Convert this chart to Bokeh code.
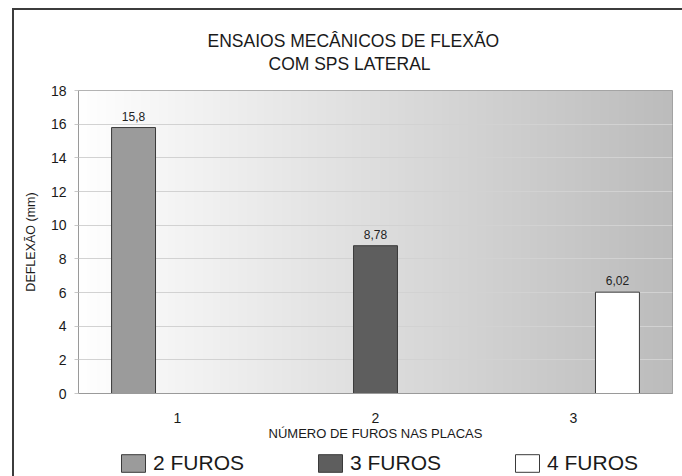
import numpy as np
from bokeh.plotting import figure
from bokeh.layouts import column
from bokeh.models import (ColumnDataSource, FactorRange, Range1d, FixedTicker,
                          Legend, LegendItem, Title)
from bokeh.transform import dodge
from bokeh.core.properties import value
from bokeh.embed import file_html
from bokeh.resources import INLINE

# ---- data ----
categories = ["1", "2", "3"]
series_names = ["2 FUROS", "3 FUROS", "4 FUROS"]
furos2 = [15.8, 0, 0]
furos3 = [0, 8.78, 0]
furos4 = [0, 0, 6.02]
y_ticks = [0, 2, 4, 6, 8, 10, 12, 14, 16, 18]
title_lines = ["ENSAIOS MECÂNICOS DE FLEXÃO", "COM SPS LATERAL"]
x_title = "NÚMERO DE FUROS NAS PLACAS"
y_title = "DEFLEXÃO (mm)"

FONT = "Liberation Sans"
W = 668

p = figure(width=W, height=434,
           x_range=FactorRange(*categories, range_padding=0, factor_padding=0),
           y_range=Range1d(0, 18),
           output_backend="svg", toolbar_location=None,
           min_border_left=64, min_border_right=10,
           min_border_top=80, min_border_bottom=51)
p.title = None
p.background_fill_color = "white"
p.border_fill_color = "white"
p.outline_line_color = "#9a9a9a"
p.outline_line_width = 1

# gradient background of plot area
n = 256
grad = np.linspace(255, 188, n).astype(np.uint8)
img = np.empty((1, n), dtype=np.uint32)
view = img.view(dtype=np.uint8).reshape((1, n, 4))
view[0, :, 0] = grad
view[0, :, 1] = grad
view[0, :, 2] = grad
view[0, :, 3] = 255
p.image_rgba(image=[img], x=0, y=0, dw=len(categories), dh=18, level="image")

# grid
p.xgrid.grid_line_color = None
p.ygrid.ticker = FixedTicker(ticks=y_ticks)
p.ygrid.grid_line_color = "#d2d2d2"
p.ygrid.grid_line_width = 1

# bars
colors = ["#9b9b9b", "#5e5e5e", "#ffffff"]
bar_w = 0.222
offsets = [-bar_w, 0.0, bar_w]
for name, vals, col, off in zip(series_names, [furos2, furos3, furos4], colors, offsets):
    cats = [c for c, v in zip(categories, vals) if v > 0]
    vs = [v for v in vals if v > 0]
    src = ColumnDataSource(dict(cat=cats, val=vs,
                                lab=[f"{v:g}".replace(".", ",") for v in vs]))
    p.vbar(x=dodge("cat", off, range=p.x_range), top="val", bottom=0,
           width=bar_w, source=src, fill_color=col,
           line_color="#3a3a3a", line_width=1)
    p.text(x=dodge("cat", off, range=p.x_range), y="val", text="lab", source=src,
           text_align="center", text_baseline="bottom", y_offset=-7,
           text_font=value(FONT), text_font_size="12px", text_color="#222222")

# axes
p.yaxis.ticker = FixedTicker(ticks=y_ticks)
p.yaxis.axis_label = y_title
p.yaxis.axis_label_text_font = FONT
p.yaxis.axis_label_text_font_style = "normal"
p.yaxis.axis_label_text_font_size = "12.5px"
p.yaxis.axis_label_text_color = "#1a1a1a"
p.yaxis.axis_label_standoff = 10
p.yaxis.major_label_text_font = FONT
p.yaxis.major_label_text_font_size = "14px"
p.yaxis.major_label_text_color = "#1a1a1a"
p.yaxis.major_label_standoff = 8
p.yaxis.axis_line_color = "#9a9a9a"
p.yaxis.major_tick_line_color = "#c8c8c8"
p.yaxis.major_tick_out = 4
p.yaxis.major_tick_in = 0
p.yaxis.minor_tick_line_color = None

p.xaxis.axis_label = x_title
p.xaxis.axis_label_text_font = FONT
p.xaxis.axis_label_text_font_style = "normal"
p.xaxis.axis_label_text_font_size = "13px"
p.xaxis.axis_label_text_color = "#1a1a1a"
p.xaxis.axis_label_standoff = 0
p.xaxis.major_label_text_font = FONT
p.xaxis.major_label_text_font_size = "14px"
p.xaxis.major_label_text_color = "#1a1a1a"
p.xaxis.major_label_standoff = 19
p.xaxis.axis_line_color = "#9a9a9a"
p.xaxis.major_tick_line_color = None
p.xaxis.major_tick_out = 0
p.xaxis.major_tick_in = 0
p.xaxis.minor_tick_line_color = None

# title lines (second line added first: it sits nearest the plot)
p.add_layout(Title(text=title_lines[1], align="left", offset=190, standoff=33,
                   text_font=FONT, text_font_size="17.5px",
                   text_font_style="normal", text_color="#1a1a1a"), "above")
p.add_layout(Title(text=title_lines[0], align="left", offset=129, standoff=-30,
                   text_font=FONT, text_font_size="17.5px",
                   text_font_style="normal", text_color="#1a1a1a"), "above")

# legend strip (its own small figure below the chart; its frame aligns with the chart's)
q = figure(width=W, height=32, x_range=Range1d(0, 1), y_range=Range1d(0, 1),
           x_axis_location=None, y_axis_location=None,
           output_backend="svg", toolbar_location=None,
           min_border_left=0, min_border_right=0, min_border_top=0, min_border_bottom=0)
q.title = None
q.grid.grid_line_color = None
q.outline_line_color = None
q.background_fill_color = "white"
q.border_fill_color = "white"
items = []
for name, col in zip(series_names, colors):
    # off-range placeholder: only its legend swatch is seen
    swatch = ColumnDataSource(dict(x=[-5.0], top=[-5.0]))
    r = q.vbar(x="x", top="top", bottom=-6.0, width=0.1, source=swatch,
               fill_color=col, line_color="#3a3a3a", line_width=1)
    items.append(LegendItem(label=name, renderers=[r]))
legend = Legend(items=items, orientation="horizontal", location=(40, 1),
                glyph_width=30, glyph_height=22, label_height=22,
                label_text_font=FONT, label_text_font_size="21px",
                label_text_color="#1a1a1a", label_standoff=5, spacing=71,
                padding=0, margin=0, border_line_color=None,
                background_fill_alpha=0)
q.add_layout(legend, "center")

layout = column(p, q, spacing=0)
layout.styles = {"border-left": "2px solid #3c3c3c", "border-top": "2px solid #3c3c3c",
                 "margin-left": "12px", "margin-top": "8px"}

open("out.html", "w").write(file_html(layout, INLINE))
